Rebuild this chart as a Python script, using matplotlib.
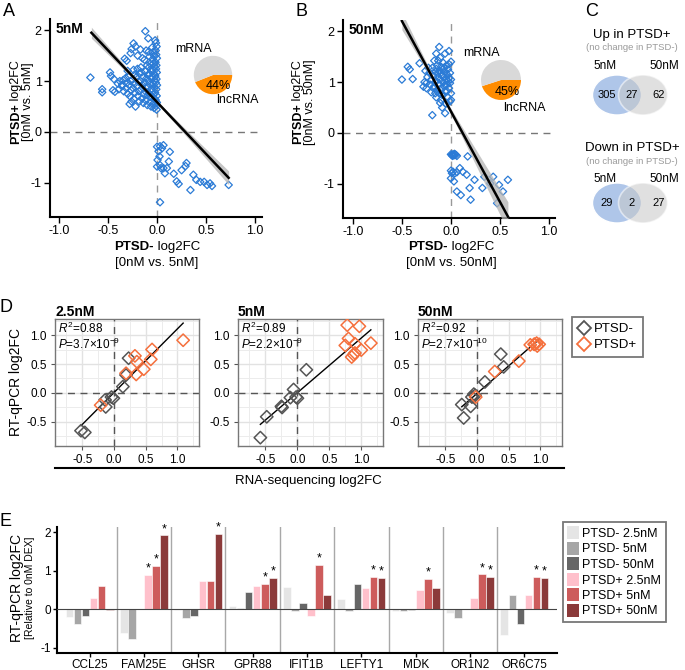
import numpy as np
import matplotlib
matplotlib.use("Agg")
import matplotlib.pyplot as plt
from matplotlib.patches import Ellipse, Patch
from matplotlib.lines import Line2D

plt.rcParams["font.family"] = ["Liberation Sans", "DejaVu Sans"]
plt.rcParams["mathtext.fontset"] = "custom"
plt.rcParams["mathtext.rm"] = "Liberation Sans"
plt.rcParams["mathtext.it"] = "Liberation Sans:italic"
plt.rcParams["mathtext.bf"] = "Liberation Sans:bold"
plt.rcParams["axes.unicode_minus"] = False

W, H = 685, 670

# ---------------- data: panel A (5nM) ----------------
a_up = [
    (-0.005, 0.44), (-0.01, 0.51), (-0.002, 0.58), (-0.015, 0.63), (-0.004, 0.71), (-0.02, 0.77),
    (-0.008, 0.84), (-0.001, 0.92), (-0.013, 0.97), (-0.006, 1.04), (-0.018, 1.10), (-0.003, 1.17),
    (-0.011, 1.24), (-0.007, 1.31), (-0.016, 1.37), (-0.002, 1.45), (-0.009, 1.52), (-0.014, 1.60),
    (-0.005, 1.68), (-0.012, 1.75), (-0.02, 1.80),
    (-0.03, 0.47), (-0.042, 0.55), (-0.028, 0.66), (-0.037, 0.73), (-0.045, 0.81), (-0.031, 0.88),
    (-0.04, 0.95), (-0.026, 1.02), (-0.048, 1.08), (-0.034, 1.15), (-0.043, 1.22), (-0.029, 1.29),
    (-0.038, 1.35), (-0.046, 1.43), (-0.032, 1.50), (-0.041, 1.57), (-0.05, 1.66),
    (-0.062, 0.50), (-0.075, 0.58), (-0.068, 0.69), (-0.081, 0.76), (-0.058, 0.85), (-0.072, 0.93),
    (-0.086, 1.00), (-0.064, 1.07), (-0.079, 1.14), (-0.06, 1.21), (-0.083, 1.27), (-0.07, 1.34),
    (-0.077, 1.48), (-0.09, 1.84), (-0.085, 1.58),
    (-0.10, 0.53), (-0.115, 0.62), (-0.098, 0.72), (-0.12, 0.80), (-0.105, 0.89), (-0.125, 0.97),
    (-0.11, 1.05), (-0.095, 1.12), (-0.118, 1.19), (-0.102, 1.31), (-0.128, 1.42), (-0.112, 1.60),
    (-0.12, 1.98),
    (-0.14, 0.57), (-0.155, 0.66), (-0.135, 0.74), (-0.162, 0.84), (-0.148, 0.92), (-0.17, 1.00),
    (-0.142, 1.09), (-0.158, 1.17), (-0.165, 1.27), (-0.15, 1.45), (-0.17, 1.62),
    (-0.18, 0.60), (-0.195, 0.71), (-0.185, 0.80), (-0.205, 0.90), (-0.19, 0.99), (-0.21, 1.08),
    (-0.182, 1.15), (-0.20, 1.24), (-0.198, 1.50),
    (-0.22, 0.50), (-0.235, 0.65), (-0.225, 0.77), (-0.245, 0.86), (-0.23, 0.95), (-0.25, 1.03),
    (-0.228, 1.13), (-0.24, 1.22), (-0.24, 1.74), (-0.22, 1.68), (-0.26, 1.63),
    (-0.26, 0.60), (-0.275, 0.70), (-0.265, 0.82), (-0.285, 0.92), (-0.27, 1.00), (-0.29, 1.10),
    (-0.28, 0.55), (-0.27, 1.55),
    (-0.30, 0.75), (-0.315, 0.86), (-0.305, 0.97), (-0.32, 1.06), (-0.30, 1.20), (-0.33, 1.44),
    (-0.31, 1.40),
    (-0.34, 0.80), (-0.355, 0.93), (-0.345, 1.02), (-0.36, 0.90),
    (-0.38, 1.00), (-0.40, 0.95), (-0.39, 0.84),
    (-0.43, 0.79), (-0.45, 0.82), (-0.44, 1.04), (-0.47, 1.10), (-0.48, 1.17),
    (-0.56, 0.84), (-0.56, 0.78), (-0.68, 1.07),
]
a_down = [
    (0.00, -0.29), (0.03, -0.28), (0.065, -0.26), (0.05, -0.32), (0.015, -0.38), (0.025, -0.48),
    (0.005, -0.55), (0.03, -0.65), (0.04, -0.71), (0.065, -0.71), (0.10, -0.71), (0.08, -0.81),
    (0.00, -0.68), (0.13, -0.39), (0.12, -0.58), (0.17, -0.82), (0.20, -0.97), (0.25, -0.75),
    (0.29, -0.67), (0.30, -0.61), (0.34, -1.14), (0.37, -0.84), (0.40, -0.94), (0.44, -0.98),
    (0.48, -0.98), (0.51, -1.04), (0.54, -1.01), (0.56, -1.06), (0.73, -1.04), (0.03, -1.38),
    (0.22, -1.02),
]
# regression line: x range, y at ends, CI half-width (min, spread, centre)
a_fit_x = [-0.67, 0.73]
a_fit_y = [1.95, -0.90]
a_band = (0.025, 0.17, -0.05)
a_lnc = 44

# ---------------- data: panel B (50nM) ----------------
b_up = [
    (-0.50, 1.05), (-0.44, 1.30), (-0.42, 1.25), (-0.39, 1.06), (-0.32, 1.37), (-0.26, 1.22),
    (-0.27, 1.00), (-0.28, 0.91), (-0.25, 0.88), (-0.19, 0.35), (-0.16, 0.78), (-0.15, 1.56),
    (-0.12, 1.69), (-0.06, 1.56), (-0.02, 1.61), (-0.11, 0.59), (-0.09, 0.50), (-0.06, 0.39),
    (-0.22, 1.18), (-0.20, 1.05), (-0.21, 0.95), (-0.19, 1.28), (-0.18, 1.12), (-0.17, 0.92),
    (-0.16, 1.20), (-0.15, 1.02), (-0.14, 0.85), (-0.14, 1.33), (-0.13, 1.10), (-0.12, 0.96),
    (-0.12, 1.22), (-0.11, 1.05), (-0.10, 1.30), (-0.10, 0.88), (-0.09, 1.15), (-0.09, 0.75),
    (-0.08, 1.00), (-0.08, 1.25), (-0.07, 0.92), (-0.07, 1.10), (-0.06, 1.20), (-0.06, 0.82),
    (-0.05, 1.05), (-0.05, 1.32), (-0.04, 0.95), (-0.04, 1.15), (-0.03, 1.25), (-0.03, 0.70),
    (-0.02, 1.08), (-0.02, 0.88), (-0.01, 1.18), (-0.01, 0.98), (0.00, 1.40), (0.00, 1.05),
    (0.00, 0.78), (-0.01, 0.62), (-0.13, 1.42), (-0.11, 1.48), (-0.08, 1.38), (-0.17, 1.42),
    (-0.23, 1.28), (-0.24, 1.10), (-0.20, 0.80), (-0.15, 0.70), (-0.10, 0.65), (-0.05, 0.58),
    (0.00, 0.65), (-0.06, 0.95), (-0.11, 0.85), (-0.16, 1.00), (-0.09, 1.12), (-0.03, 1.02),
    (-0.13, 1.18), (-0.07, 1.28), (-0.02, 1.35), (-0.18, 0.88), (-0.25, 0.98), (-0.15, 1.26),
    (-0.04, 0.82), (-0.12, 0.78),
]
b_down = [
    (0.00, -0.42), (0.01, -0.43), (0.02, -0.42), (0.03, -0.44), (0.04, -0.42), (0.05, -0.43),
    (0.015, -0.45), (0.035, -0.41), (0.06, -0.45), (0.00, -0.74), (0.02, -0.76), (0.04, -0.79),
    (0.01, -0.79), (0.06, -0.77), (0.09, -0.69), (0.12, -0.76), (0.17, -0.46), (0.00, -0.89),
    (0.03, -0.95), (0.16, -0.82), (0.24, -0.92), (0.32, -1.08), (0.40, -0.99), (0.06, -1.15),
    (0.10, -1.22), (0.19, -1.08), (0.20, -1.31), (0.34, -0.86), (0.43, -0.86), (0.49, -1.02),
    (0.53, -1.15), (0.58, -0.92), (0.47, -1.38),
]
b_fit_x = [-0.50, 0.58]
b_fit_y = [2.20, -1.64]
b_band = (0.04, 0.42, -0.10)
b_lnc = 45

# ---------------- data: panel C (Venn counts) ----------------
venn_up = [305, 27, 62]
venn_down = [29, 2, 27]

# ---------------- data: panel D (RNA-seq vs RT-qPCR) ----------------
d_titles = ["2.5nM", "5nM", "50nM"]
d_r2 = ["0.88", "0.89", "0.92"]
d_p = [r"3.7×10$^{-9}$", r"2.2×10$^{-9}$", r"2.7×10$^{-10}$"]
d_neg_x = [
    [0.23, 0.19, 0.14, -0.01, -0.04, -0.14, -0.13, -0.52, -0.46],
    [0.14, -0.06, -0.11, -0.02, 0.00, -0.25, -0.24, -0.48, -0.58],
    [0.375, 0.42, 0.125, -0.03, -0.08, -0.24, -0.10, -0.21, -0.05],
]
d_neg_y = [
    [0.60, 0.31, 0.11, -0.09, -0.07, -0.12, -0.24, -0.65, -0.68],
    [0.40, 0.06, -0.08, -0.07, -0.09, -0.23, -0.25, -0.41, -0.77],
    [0.67, 0.45, 0.19, -0.04, -0.07, -0.20, -0.23, -0.43, -0.02],
]
d_pos_x = [
    [1.09, 0.60, 0.33, 0.36, 0.58, 0.47, 0.35, 0.19, -0.21],
    [0.78, 0.97, 0.80, 0.75, 0.90, 1.15, 1.00, 0.90, 0.85, 0.88],
    [-0.02, 0.28, 0.66, 0.84, 0.90, 0.94, 0.98, 0.95, 0.91],
]
d_pos_y = [
    [0.91, 0.75, 0.64, 0.54, 0.58, 0.41, 0.32, 0.34, -0.21],
    [1.17, 1.15, 0.94, 0.82, 0.85, 0.86, 0.74, 0.69, 0.62, 0.66],
    [-0.07, 0.37, 0.55, 0.83, 0.84, 0.86, 0.84, 0.81, 0.84],
]

# ---------------- data: panel E (RT-qPCR bars) ----------------
genes = ["CCL25", "FAM25E", "GHSR", "GPR88", "IFIT1B", "LEFTY1", "MDK", "OR1N2", "OR6C75"]
series = ["PTSD- 2.5nM", "PTSD- 5nM", "PTSD- 50nM", "PTSD+ 2.5nM", "PTSD+ 5nM", "PTSD+ 50nM"]
neg_25 = [-0.21, -0.63, -0.03, 0.09, 0.57, 0.25, -0.06, -0.10, -0.68]
neg_5 = [-0.39, -0.78, -0.23, 0.03, -0.06, -0.05, -0.06, -0.23, 0.37]
neg_50 = [-0.17, 0.00, -0.17, 0.44, 0.17, 0.64, -0.03, 0.00, -0.40]
pos_25 = [0.30, 0.88, 0.74, 0.61, -0.19, 0.54, 0.50, 0.29, 0.37]
pos_5 = [0.59, 1.12, 0.73, 0.66, 1.15, 0.83, 0.78, 0.90, 0.83]
pos_50 = [-0.03, 1.91, 1.96, 0.80, 0.37, 0.80, 0.54, 0.83, 0.80]
star_pos_25 = [0, 1, 0, 0, 0, 0, 0, 0, 0]
star_pos_5 = [0, 1, 0, 1, 1, 1, 1, 1, 1]
star_pos_50 = [0, 1, 1, 1, 0, 1, 0, 1, 1]

BLUE = "#2b7bd6"
ORANGE = "#ff8c00"
PIE_GREY = "#d9d9d9"
D_GREY = "#555555"
D_ORANGE = "#f5703d"
BAR_COLORS = ["#e5e5e5", "#a6a6a6", "#666666", "#ffc0cb", "#cd5c5c", "#8b3a3a"]

fig = plt.figure(figsize=(W / 100, H / 100), dpi=100)
renderer = fig.canvas.get_renderer()


def add_px(l, t, r, b):
    return fig.add_axes([l / W, 1 - b / H, (r - l) / W, (b - t) / H])


# overlay in pixel coordinates for free text and the Venn diagrams
ov = add_px(0, 0, W, H)
ov.set_xlim(0, W)
ov.set_ylim(H, 0)
ov.axis("off")
ov.set_zorder(10)


def txt(x, y, s, **kw):
    kw.setdefault("ha", "center")
    kw.setdefault("va", "center")
    return ov.text(x, y, s, **kw)


def mixed(x, y, bold, normal, fs, vertical=False):
    # bold part followed by a normal part, centred on (x, y)
    t1 = ov.text(0, 0, bold, fontsize=fs, fontweight="bold", ha="left", va="center")
    t2 = ov.text(0, 0, " " + normal, fontsize=fs, ha="left", va="center")
    w1 = t1.get_window_extent(renderer).width
    w2 = t2.get_window_extent(renderer).width
    start = (w1 + w2) / 2
    if vertical:
        for t in (t1, t2):
            t.set_rotation(90)
            t.set_rotation_mode("anchor")
        t1.set_position((x, y + start))
        t2.set_position((x, y + start - w1))
    else:
        t1.set_position((x - start, y))
        t2.set_position((x - start + w1, y))


# panel letters
for lab, x, y in [("A", 9, 11), ("B", 302, 11), ("C", 592, 11), ("D", 6, 307), ("E", 6, 522)]:
    txt(x, y, lab, fontsize=13)


def scatter_panel(box, up, down, fit_x, fit_y, band, title, xlim, ylim):
    ax = add_px(*box)
    pts = np.array(up + down)
    ax.axhline(0, color="#777777", lw=1, ls=(0, (5, 4)), zorder=1)
    ax.axvline(0, color="#999999", lw=1, ls=(0, (5, 4)), zorder=1)
    ax.scatter(pts[:, 0], pts[:, 1], marker="D", s=14, facecolors="none",
               edgecolors=BLUE, linewidths=0.9, zorder=2)
    xs = np.linspace(fit_x[0], fit_x[1], 100)
    ys = np.interp(xs, fit_x, fit_y)
    h0, k, xc = band
    hw = np.sqrt(h0 ** 2 + (k * (xs - xc)) ** 2)
    ax.fill_between(xs, ys - hw, ys + hw, color="#b3b3b3", alpha=0.75, lw=0, zorder=3)
    ax.plot(xs, ys, color="black", lw=1.8, zorder=4)
    ax.set_xlim(*xlim)
    ax.set_ylim(*ylim)
    ax.set_xticks([-1.0, -0.5, 0.0, 0.5, 1.0])
    ax.set_xticklabels(["-1.0", "-0.5", "0.0", "0.5", "1.0"])
    ax.set_yticks([-1, 0, 1, 2])
    ax.set_yticklabels(["-1", "0", "1", "2"])
    for s in ["top", "right"]:
        ax.spines[s].set_visible(False)
    for s in ["left", "bottom"]:
        ax.spines[s].set_linewidth(1.5)
    ax.tick_params(direction="out", length=4, width=1, labelsize=9, pad=2)
    ax.text(0.025, 0.985, title, transform=ax.transAxes, ha="left", va="top",
            fontsize=10, fontweight="bold")
    return ax


scatter_panel((50, 19, 262, 217), a_up, a_down, a_fit_x, a_fit_y, a_band, "5nM",
              (-1.092, 1.07), (-1.67, 2.22))
scatter_panel((343, 20, 555, 218), b_up, b_down, b_fit_x, b_fit_y, b_band, "50nM",
              (-1.10, 1.06), (-1.67, 2.22))


def pie_inset(box, pct):
    pax = add_px(*box)
    pax.pie([pct, 100 - pct], colors=[ORANGE, PIE_GREY], startangle=0, counterclock=False,
            wedgeprops=dict(linewidth=0))
    pax.set_aspect("equal")
    pax.patch.set_visible(False)
    return pax


pie_inset((189, 51, 237, 99), a_lnc)
pie_inset((476, 55, 526, 105), b_lnc)
txt(193, 49, "mRNA", fontsize=9)
txt(237, 100, "lncRNA", fontsize=9)
txt(218, 86, f"{a_lnc}%", fontsize=9)
txt(481, 53, "mRNA", fontsize=9)
txt(524, 108, "lncRNA", fontsize=9)
txt(507, 92, f"{b_lnc}%", fontsize=9)

# axis titles A / B
for cx, cond in [(157, "5nM"), (451, "50nM")]:
    mixed(cx, 247, "PTSD-", "log2FC", 9.5)
    txt(cx, 263, f"[0nM vs. {cond}]", fontsize=9.5)
for cx, cond in [(16, "5nM"), (298, "50nM")]:
    mixed(cx, 102, "PTSD+", "log2FC", 9, vertical=True)
    txt(cx + 12, 102, f"[0nM vs. {cond}]", fontsize=9, rotation=90)

# ---------------- panel C ----------------
for (y_t, title, y_cnt, counts) in [(35, "Up in PTSD+", 95, venn_up), (148, "Down in PTSD+", 203, venn_down)]:
    txt(632, y_t, title, fontsize=9.5)
    txt(632, y_t + 13, "(no change in PTSD-)", fontsize=6.8, color="#9a9a9a")
    txt(605, y_t + 31, "5nM", fontsize=8.5)
    txt(664, y_t + 31, "50nM", fontsize=8.5)
    ov.add_patch(Ellipse((617, y_cnt), 49, 40, facecolor="#afc6e9", edgecolor="white", lw=1))
    ov.add_patch(Ellipse((643, y_cnt), 49, 40, facecolor="#c8c8c8", alpha=0.55,
                         edgecolor="white", lw=1.2))
    txt(607, y_cnt, str(counts[0]), fontsize=8)
    txt(632, y_cnt, str(counts[1]), fontsize=8)
    txt(659, y_cnt, str(counts[2]), fontsize=8)

# ---------------- panel D ----------------
d_boxes = [(55, 319, 199, 446), (238, 319, 383, 446), (418, 319, 562, 446)]
for i, box in enumerate(d_boxes):
    ax = add_px(*box)
    ax.set_xlim(-0.93, 1.34)
    ax.set_ylim(-0.914, 1.276)
    ax.set_xticks([-0.5, 0.0, 0.5, 1.0])
    ax.set_xticklabels(["-0.5", "0.0", "0.5", "1.0"])
    ax.set_yticks([-0.5, 0.0, 0.5, 1.0])
    ax.set_yticklabels(["-0.5", "0.0", "0.5", "1.0"])
    ax.set_xticks([-0.75, -0.25, 0.25, 0.75, 1.25], minor=True)
    ax.set_yticks([-0.75, -0.25, 0.25, 0.75, 1.25], minor=True)
    ax.grid(which="major", color="#e2e2e2", lw=1.0)
    ax.grid(which="minor", color="#ececec", lw=0.7)
    ax.set_axisbelow(True)
    ax.tick_params(which="minor", length=0)
    ax.tick_params(which="major", length=3, color="#555555", labelsize=8.5, pad=3)
    for s in ax.spines.values():
        s.set_color("#777777")
        s.set_linewidth(1)
    ax.axhline(0, color="#555555", lw=1, ls=(0, (5, 4)), zorder=1)
    ax.axvline(0, color="#555555", lw=1, ls=(0, (5, 4)), zorder=1)
    allx = np.array(d_neg_x[i] + d_pos_x[i])
    ally = np.array(d_neg_y[i] + d_pos_y[i])
    k, b0 = np.polyfit(allx, ally, 1)
    xs = np.array([allx.min(), allx.max()])
    ax.plot(xs, k * xs + b0, color="black", lw=1, zorder=2)
    ax.scatter(d_neg_x[i], d_neg_y[i], marker="D", s=40, facecolors="none",
               edgecolors=D_GREY, linewidths=1.1, zorder=3)
    ax.scatter(d_pos_x[i], d_pos_y[i], marker="D", s=40, facecolors="none",
               edgecolors=D_ORANGE, linewidths=1.1, zorder=3)
    ax.set_title(d_titles[i], loc="left", fontsize=10, fontweight="bold", pad=1)
    ax.text(0.02, 0.985, f"$R^2$={d_r2[i]}", transform=ax.transAxes, ha="left", va="top", fontsize=8.5)
    ax.text(0.02, 0.86, "$P$=" + d_p[i], transform=ax.transAxes, ha="left", va="top", fontsize=8.5)

txt(16, 382, "RT-qPCR log2FC", fontsize=10, rotation=90)
ov.plot([55, 564], [468, 468], color="black", lw=1.5)
txt(308, 481, "RNA-sequencing log2FC", fontsize=9.5)

d_handles = [
    Line2D([], [], marker="D", ls="", mfc="none", mec=D_GREY, ms=7.5, mew=1.3, label="PTSD-"),
    Line2D([], [], marker="D", ls="", mfc="none", mec=D_ORANGE, ms=7.5, mew=1.3, label="PTSD+"),
]
leg = fig.legend(handles=d_handles, loc="upper left", bbox_to_anchor=(572 / W, 1 - 317 / H),
                 frameon=True, fancybox=False, edgecolor="#555555", fontsize=9.5,
                 handlelength=0.9, handletextpad=0.3, borderpad=0.45, labelspacing=0.3,
                 borderaxespad=0)
leg.get_frame().set_linewidth(1.3)

# ---------------- panel E ----------------
ax = add_px(57, 527, 557, 653)
vals = [neg_25, neg_5, neg_50, pos_25, pos_5, pos_50]
stars = [None, None, None, star_pos_25, star_pos_5, star_pos_50]
pos = np.arange(len(genes))
step = 0.148
for j, v in enumerate(vals):
    xj = pos + (j - 2.5) * step
    ax.bar(xj, v, width=0.14, color=BAR_COLORS[j], edgecolor="white", lw=0.4, zorder=2,
           label=series[j])
    if stars[j] is not None:
        for xx, vv, st in zip(xj, v, stars[j]):
            if st:
                ax.text(xx, vv + 0.01, "*", ha="center", va="bottom", fontsize=9, zorder=3)
for i in range(len(genes) - 1):
    ax.axvline(i + 0.5, color="#a8a8a8", lw=1, zorder=1)
ax.axhline(0, color="#444444", lw=0.8, zorder=3)
ax.set_xlim(-0.6, 8.6)
ax.set_ylim(-1.14, 2.13)
ax.set_xticks(pos)
ax.set_xticklabels(genes)
ax.set_yticks([-1, 0, 1, 2])
ax.set_yticklabels(["-1", "0", "1", "2"])
for s in ["top", "right"]:
    ax.spines[s].set_visible(False)
for s in ["left", "bottom"]:
    ax.spines[s].set_linewidth(1.5)
ax.tick_params(direction="out", length=3, width=1, labelsize=8.5, pad=1.5)

txt(17, 588, "RT-qPCR log2FC", fontsize=10, rotation=90)
txt(30, 588, "[Relative to 0nM DEX]", fontsize=7.5, rotation=90)

e_handles = [Patch(facecolor=c, edgecolor="none", label=s) for c, s in zip(BAR_COLORS, series)]
leg2 = fig.legend(handles=e_handles, loc="upper left", bbox_to_anchor=(563 / W, 1 - 522 / H),
                  frameon=True, fancybox=False, edgecolor="#555555", fontsize=9,
                  handlelength=0.9, handleheight=1.2, handletextpad=0.3, borderpad=0.35,
                  labelspacing=0.15, borderaxespad=0)
leg2.get_frame().set_linewidth(1.3)

fig.savefig("out.png", dpi=100)
